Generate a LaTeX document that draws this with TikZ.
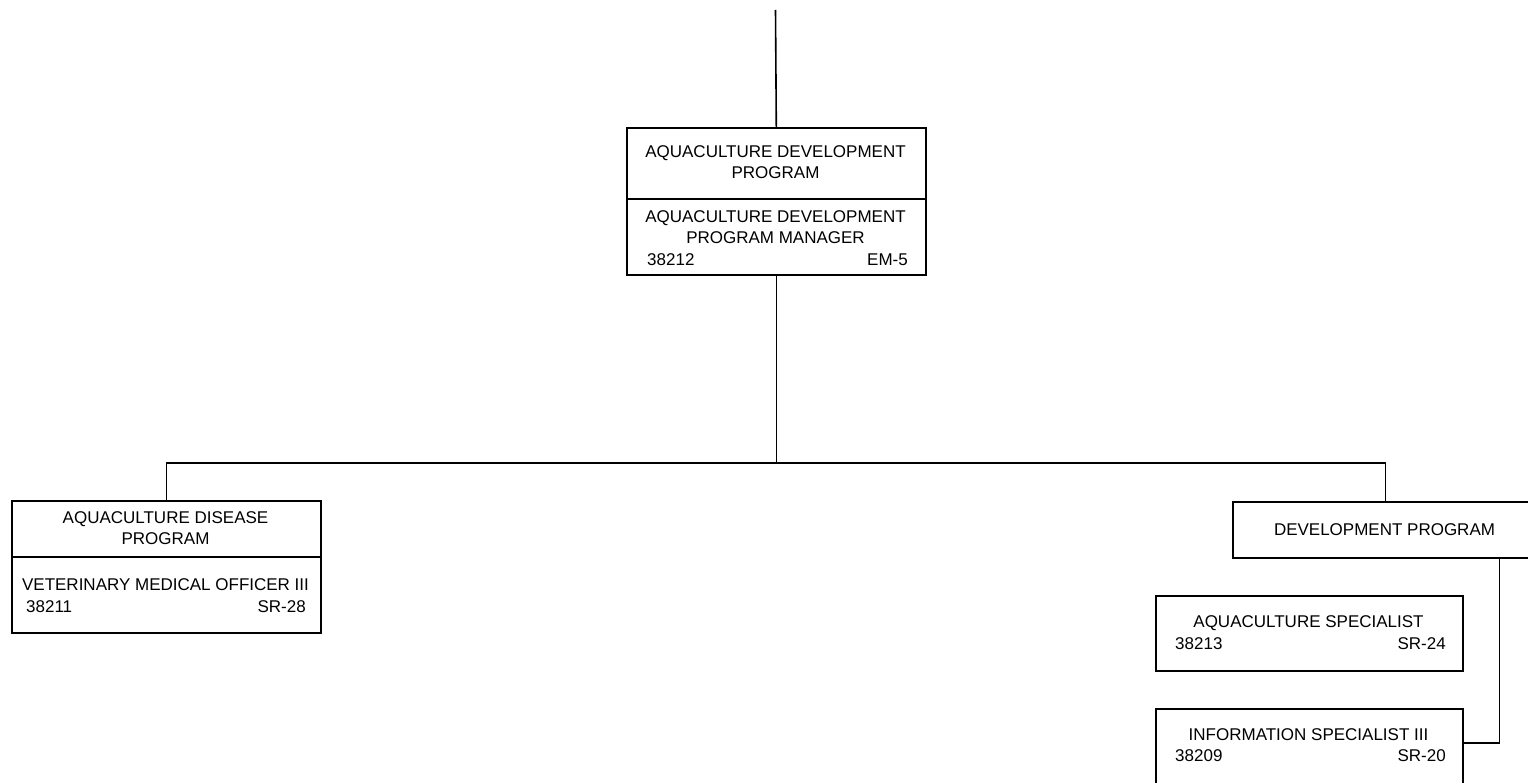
\documentclass[tikz,border=0pt]{standalone}
\usepackage{fontspec}
\setmainfont{Liberation Sans}
\usetikzlibrary{positioning,calc}
\tikzset{
  post/.style={draw, line width=1.6pt, inner sep=0pt, anchor=north west},
  lbl/.style={font=\fontsize{17}{21}\selectfont, align=center, inner sep=0pt},
  link/.style={line width=1.6pt}
}

\begin{document}
\begin{tikzpicture}[x=1pt,y=-1pt]
  \useasboundingbox (0,0) rectangle (1528,783);
  % program manager
  \node[post, minimum width=299pt, minimum height=147pt] (mgr) at (626,127) {};
  \draw[link] (mgr.west |- 0,199) -- (mgr.east |- 0,199);
  \node[lbl] (mgrunit) at (775.5,162.5) {AQUACULTURE DEVELOPMENT\\PROGRAM};
  \node[lbl] (mgrtitle) at (775.5,227.5) {AQUACULTURE DEVELOPMENT\\PROGRAM MANAGER};
  \node[lbl, anchor=west] (mgrnum) at (647,260) {38212};
  \node[lbl, anchor=east] (mgrgrade) at (908,260) {EM-5};
  % disease program
  \node[post, minimum width=309pt, minimum height=132pt] (dis) at (11,500) {};
  \draw[link] (dis.west |- 0,557) -- (dis.east |- 0,557);
  \node[lbl] (disunit) at (165.5,528.5) {AQUACULTURE DISEASE\\PROGRAM};
  \node[lbl] (distitle) at (165.5,585) {VETERINARY MEDICAL OFFICER III};
  \node[lbl, anchor=west] (disnum) at (26,607) {38211};
  \node[lbl, anchor=east] (disgrade) at (306,607) {SR-28};
  % development program
  \node[post, minimum width=305pt, minimum height=56pt] (dev) at (1232,501) {};
  \node[lbl] (devunit) at (1384.5,530) {DEVELOPMENT PROGRAM};
  \node[post, minimum width=307pt, minimum height=75pt] (spec) at (1155,595) {};
  \node[lbl] (spectitle) at (1308.5,623) {AQUACULTURE SPECIALIST};
  \node[lbl, anchor=west] (specnum) at (1175,644) {38213};
  \node[lbl, anchor=east] (specgrade) at (1446,644) {SR-24};
  \node[post, minimum width=307pt, minimum height=100pt] (info) at (1155,708) {};
  \node[lbl] (infotitle) at (1308.5,735) {INFORMATION SPECIALIST III};
  \node[lbl, anchor=west] (infonum) at (1175,756) {38209};
  \node[lbl, anchor=east] (infograde) at (1446,756) {SR-20};
  % connectors
  \coordinate (head) at (775.5,10);
  \draw[link] (head) -- (mgr.north);
  \draw[link] (mgr.south) -- (mgr.south |- 0,463) coordinate (bus);
  \draw[link] (dis.north) |- (bus) -| (dev.north);
  \coordinate (tie) at ([yshift=-35pt]info.north east);
  \draw[link] (tie) -| ([xshift=-39pt]dev.south east);
\end{tikzpicture}
\end{document}
